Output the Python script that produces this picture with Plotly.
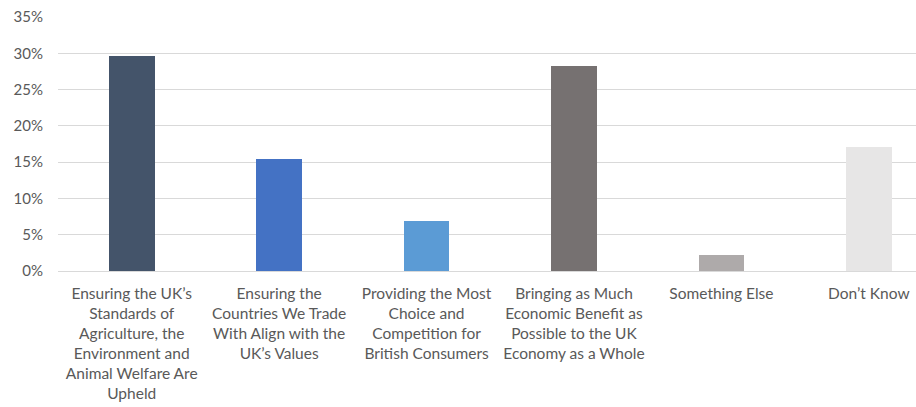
import plotly.graph_objects as go

categories = [
    "Ensuring the UK’s<br>Standards of<br>Agriculture, the<br>Environment and<br>Animal Welfare Are<br>Upheld",
    "Ensuring the<br>Countries We Trade<br>With Align with the<br>UK’s Values",
    "Providing the Most<br>Choice and<br>Competition for<br>British Consumers",
    "Bringing as Much<br>Economic Benefit as<br>Possible to the UK<br>Economy as a Whole",
    "Something Else",
    "Don’t Know",
]
values = [0.296, 0.154, 0.069, 0.283, 0.022, 0.171]
colors = ["#44546A", "#4472C4", "#5B9BD5", "#767171", "#AEAAAA", "#E7E6E6"]
y_ticks = [0, 0.05, 0.10, 0.15, 0.20, 0.25, 0.30, 0.35]

fig = go.Figure(go.Bar(
    x=list(range(len(categories))), y=values, marker_color=colors,
    marker_line_width=0, width=0.31,
))

font = "Lato, 'Open Sans', sans-serif"
fig.update_layout(
    width=916, height=407,
    margin=dict(l=58, r=0, t=17, b=136),
    paper_bgcolor="white", plot_bgcolor="white",
    showlegend=False,
    font=dict(family=font, size=15, color="#595959"),
    bargap=0,
)
fig.update_xaxes(
    tickmode="array", tickvals=list(range(len(categories))), ticktext=categories,
    range=[-0.5, 5.32], showgrid=False, zeroline=False, showline=False,
    ticks="outside", ticklen=8, tickcolor="rgba(0,0,0,0)", tickangle=0,
    tickfont=dict(size=15.5, color="#595959"),
)
fig.update_yaxes(
    range=[0, 0.35], tickvals=y_ticks, tickformat=".0%",
    showgrid=True, gridcolor="#D9D9D9", gridwidth=1, zeroline=True,
    zerolinecolor="#D9D9D9", zerolinewidth=1, showline=False,
    ticks="outside", ticklen=11, tickcolor="rgba(0,0,0,0)",
    tickfont=dict(size=15, color="#595959"),
)
fig.write_html("out.html")
